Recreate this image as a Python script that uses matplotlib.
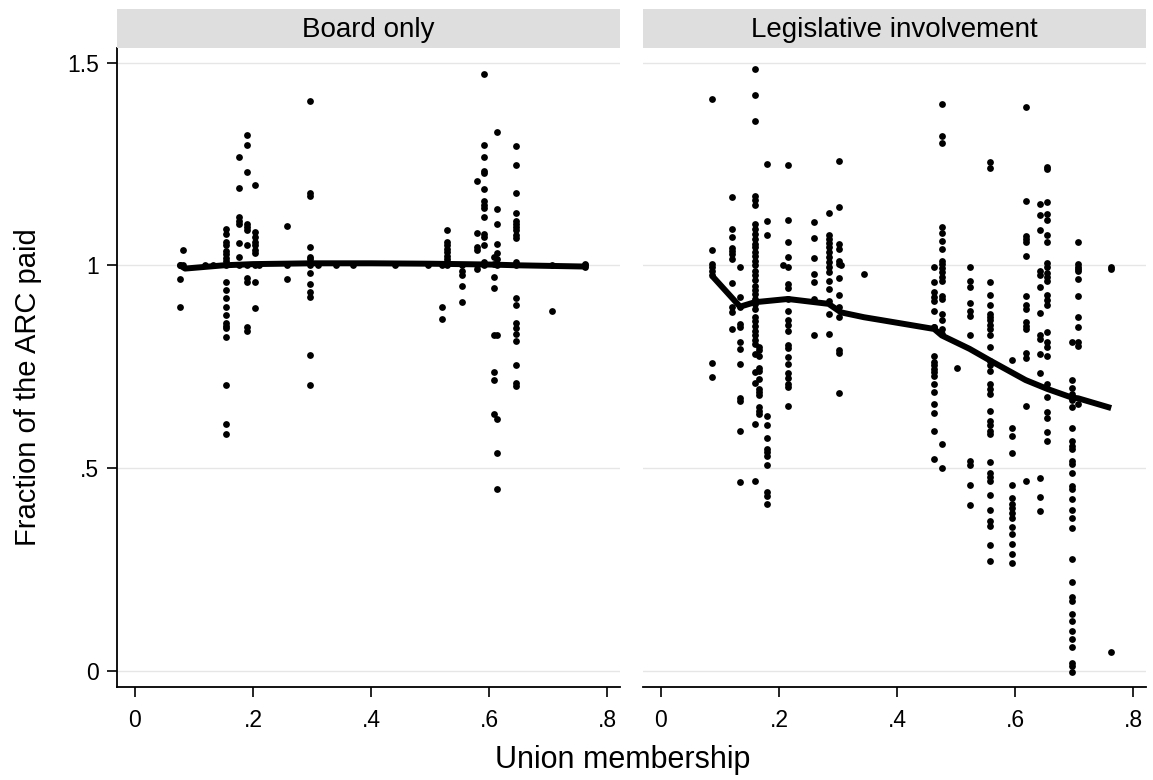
import matplotlib
matplotlib.use("Agg")
import matplotlib.pyplot as plt
import numpy as np

plt.rcParams['font.family'] = ['Liberation Sans', 'DejaVu Sans']

panel_titles = ["Board only", "Legislative involvement"]
x_ticks = [0, 0.2, 0.4, 0.6, 0.8]
x_ticklabels = ["0", ".2", ".4", ".6", ".8"]
y_ticks = [0, 0.5, 1, 1.5]
y_ticklabels = ["0", ".5", "1", "1.5"]

# board only: union membership of each state column, and the fractions paid
board_cols = [0.076, 0.081, 0.119, 0.132, 0.154, 0.176, 0.19, 0.203, 0.21, 0.257,
              0.297, 0.31, 0.34, 0.37, 0.44, 0.497, 0.520, 0.528, 0.555, 0.579,
              0.592, 0.608, 0.614, 0.646, 0.706, 0.763]
board_vals = [
    [1.0, 1.0, 0.967, 0.898],
    [1.039, 1.0],
    [1.0],
    [1.0],
    [1.09, 1.078, 1.058, 1.049, 1.036, 1.028, 1.019, 1.011, 1.0, 0.96, 0.938, 0.919,
     0.896, 0.877, 0.857, 0.851, 0.845, 0.822, 0.706, 0.608, 0.584],
    [1.268, 1.191, 1.118, 1.110, 1.102, 1.056, 1.020, 1.0],
    [1.322, 1.296, 1.229, 1.101, 1.094, 1.087, 1.049, 1.0, 0.969, 0.958, 0.849, 0.837],
    [1.198, 1.081, 1.071, 1.057, 1.049, 1.038, 1.030, 1.0, 0.958, 0.895],
    [1.0],
    [1.098, 1.0, 0.967],
    [1.406, 1.178, 1.170, 1.045, 1.020, 1.016, 1.0, 0.981, 0.954, 0.933, 0.921, 0.780, 0.705],
    [1.0],
    [1.0],
    [1.0],
    [1.0],
    [1.0],
    [1.0, 0.898, 0.868],
    [1.086, 1.057, 1.049, 1.040, 1.032, 1.024, 1.016, 1.008, 1.0],
    [1.0, 0.987, 0.977, 0.948, 0.909],
    [1.209, 1.079, 1.045, 1.038, 1.0, 0.991],
    [1.471, 1.296, 1.268, 1.232, 1.227, 1.189, 1.158, 1.150, 1.142, 1.118, 1.077, 1.069,
     1.049, 1.008, 1.0],
    [1.020, 1.003, 0.970, 0.944, 0.828, 0.738, 0.717, 0.633],
    [1.328, 1.138, 1.102, 1.053, 1.030, 1.016, 1.0, 0.828, 0.621, 0.538, 0.448],
    [1.294, 1.248, 1.178, 1.128, 1.110, 1.102, 1.094, 1.086, 1.076, 1.068, 1.008, 1.0,
     0.919, 0.902, 0.857, 0.846, 0.831, 0.813, 0.755, 0.711, 0.703],
    [1.0, 0.888],
    [1.003, 1.0, 0.997],
]

legis_cols = [0.086, 0.121, 0.134, 0.159, 0.166, 0.180, 0.206, 0.215, 0.260, 0.284,
              0.301, 0.305, 0.344, 0.463, 0.476, 0.502, 0.523, 0.558, 0.595, 0.618,
              0.642, 0.655, 0.696, 0.707, 0.763]
legis_vals = [
    [1.41, 1.039, 1.003, 0.997, 0.987, 0.977, 0.758, 0.725],
    [1.168, 1.090, 1.071, 1.043, 1.036, 1.028, 1.016, 0.957, 0.898, 0.884, 0.843],
    [0.997, 0.921, 0.896, 0.855, 0.849, 0.810, 0.794, 0.757, 0.674, 0.665, 0.592, 0.465],
    [1.484, 1.419, 1.357, 1.170, 1.160, 1.150, 1.102, 1.090, 1.077, 1.065, 1.053, 1.044,
     1.032, 1.024, 1.011, 1.0, 0.987, 0.977, 0.964, 0.950, 0.940, 0.930, 0.917, 0.905,
     0.893, 0.872, 0.862, 0.851, 0.839, 0.829, 0.816, 0.806, 0.781, 0.738, 0.711, 0.608, 0.469],
    [0.798, 0.79, 0.777, 0.748, 0.740, 0.720, 0.695, 0.687, 0.679, 0.650, 0.641, 0.633],
    [1.249, 1.110, 1.075, 0.629, 0.605, 0.574, 0.547, 0.539, 0.530, 0.508, 0.440, 0.432, 0.411],
    [1.0],
    [1.248, 1.112, 1.057, 1.020, 0.997, 0.954, 0.944, 0.917, 0.887, 0.864, 0.854, 0.839,
     0.804, 0.796, 0.773, 0.757, 0.734, 0.722, 0.708, 0.701, 0.654],
    [1.106, 1.067, 1.018, 0.979, 0.958, 0.917, 0.829],
    [1.128, 1.076, 1.065, 1.054, 1.045, 1.032, 1.020, 1.008, 0.995, 0.983, 0.962, 0.942,
     0.913, 0.880, 0.831],
    [1.257, 1.143, 1.053, 1.040, 1.010, 1.003, 0.969, 0.928, 0.896, 0.872, 0.790, 0.783, 0.685],
    [1.0],
    [0.978],
    [0.997, 0.958, 0.933, 0.921, 0.913, 0.888, 0.849, 0.847, 0.777, 0.761, 0.753, 0.744,
     0.736, 0.728, 0.707, 0.687, 0.658, 0.635, 0.592, 0.522],
    [1.398, 1.318, 1.301, 1.094, 1.079, 1.061, 1.040, 1.010, 1.003, 0.994, 0.983, 0.972,
     0.962, 0.925, 0.917, 0.880, 0.865, 0.843, 0.831, 0.559, 0.500],
    [0.748],
    [0.997, 0.962, 0.947, 0.906, 0.887, 0.876, 0.829, 0.518, 0.508, 0.458, 0.410],
    [1.256, 1.240, 0.960, 0.928, 0.903, 0.880, 0.872, 0.864, 0.854, 0.843, 0.829, 0.798,
     0.765, 0.753, 0.740, 0.707, 0.695, 0.683, 0.641, 0.617, 0.605, 0.592, 0.584, 0.516,
     0.487, 0.477, 0.469, 0.434, 0.397, 0.370, 0.358, 0.310, 0.270],
    [0.767, 0.599, 0.578, 0.537, 0.458, 0.426, 0.411, 0.401, 0.390, 0.378, 0.355, 0.337,
     0.313, 0.288, 0.267],
    [1.390, 1.158, 1.073, 1.065, 1.057, 1.023, 0.924, 0.901, 0.893, 0.860, 0.851, 0.843,
     0.783, 0.772, 0.654, 0.469],
    [1.152, 1.125, 1.087, 0.987, 0.977, 0.946, 0.882, 0.829, 0.818, 0.781, 0.735, 0.475,
     0.428, 0.395],
    [1.243, 1.238, 1.155, 1.127, 1.112, 1.076, 1.057, 1.005, 0.997, 0.980, 0.970, 0.961,
     0.928, 0.915, 0.901, 0.835, 0.810, 0.799, 0.777, 0.707, 0.676, 0.638, 0.624, 0.588, 0.567],
    [0.810, 0.717, 0.697, 0.683, 0.674, 0.668, 0.651, 0.598, 0.567, 0.555, 0.547, 0.518,
     0.510, 0.489, 0.456, 0.448, 0.424, 0.397, 0.378, 0.351, 0.276, 0.218, 0.181, 0.173,
     0.140, 0.123, 0.097, 0.078, 0.058, 0.018, 0.012, -0.002],
    [1.058, 1.003, 0.997, 0.991, 0.987, 0.966, 0.925, 0.873, 0.847, 0.810, 0.802, 0.658],
    [0.997, 0.990, 0.047],
]

# lowess fit lines
board_fit_x = [0.076, 0.085, 0.15, 0.2, 0.3, 0.4, 0.5, 0.6, 0.65, 0.763]
board_fit_y = [1.0, 0.992, 1.0, 1.003, 1.005, 1.005, 1.004, 1.002, 1.0, 0.997]
legis_fit_x = [0.086, 0.134, 0.159, 0.215, 0.284, 0.305, 0.344, 0.373, 0.463, 0.476,
               0.523, 0.558, 0.618, 0.655, 0.696, 0.707, 0.763]
legis_fit_y = [0.975, 0.898, 0.909, 0.917, 0.905, 0.884, 0.872, 0.865, 0.843, 0.827,
               0.794, 0.765, 0.717, 0.695, 0.674, 0.672, 0.648]


def flatten(cols, vals):
    xs, ys = [], []
    for c, v in zip(cols, vals):
        xs += [c] * len(v)
        ys += v
    return np.array(xs), np.array(ys)


fig = plt.figure(figsize=(11.53, 7.80), dpi=100)
W, H = 1153, 780
panels = [
    (117, flatten(board_cols, board_vals), (board_fit_x, board_fit_y)),
    (643, flatten(legis_cols, legis_vals), (legis_fit_x, legis_fit_y)),
]
top, bottom = 48, 687
width = 503

for i, (left, (px, py), (fx, fy)) in enumerate(panels):
    ax = fig.add_axes([left / W, (H - bottom) / H, width / W, (bottom - top) / H])
    ax.scatter(px, py, s=24, color='black', linewidths=0, zorder=3)
    ax.plot(fx, fy, color='black', lw=4.3, solid_capstyle='butt', zorder=4)
    ax.set_xlim(-0.0305, 0.822)
    ax.set_ylim(-0.040, 1.536)
    for yv in y_ticks:
        ax.axhline(yv, color='#e6e6e6', lw=1, zorder=1)
    ax.set_xticks(x_ticks)
    ax.set_xticklabels(x_ticklabels, fontsize=16.5)
    ax.tick_params(axis='x', length=7, width=1.2, pad=9, color='black')
    for s in ['top', 'right']:
        ax.spines[s].set_visible(False)
    ax.spines['bottom'].set_linewidth(1.3)
    if i == 0:
        ax.set_yticks(y_ticks)
        ax.set_yticklabels(y_ticklabels, fontsize=16.5)
        ax.tick_params(axis='y', length=7, width=1.2, pad=6)
        ax.spines['left'].set_linewidth(1.3)
    else:
        ax.set_yticks([])
        ax.spines['left'].set_visible(False)

    # gray title strip
    sax = fig.add_axes([left / W, (H - top) / H, width / W, 39 / H])
    sax.set_facecolor('#dedede')
    sax.set_xticks([])
    sax.set_yticks([])
    for s in sax.spines.values():
        s.set_visible(False)
    sax.text(0.5, 0.45, panel_titles[i], ha='center', va='center', fontsize=20,
             transform=sax.transAxes)

fig.text(623 / W, 1 - 768 / H, "Union membership", ha='center', va='baseline', fontsize=22)
fig.text(28 / W, 1 - 387 / H, "Fraction of the ARC paid", ha='center', va='center',
         rotation=90, fontsize=21)

fig.savefig("out.png", dpi=100)
